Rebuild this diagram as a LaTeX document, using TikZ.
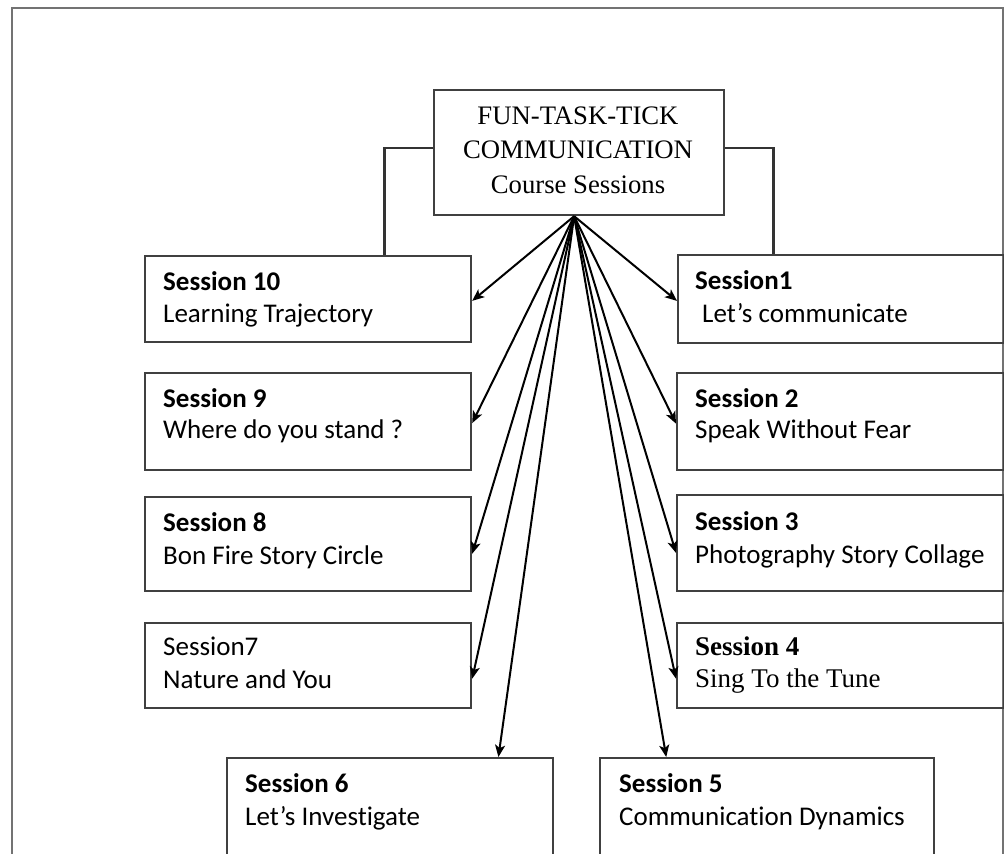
\documentclass[tikz,border=0pt]{standalone}
\usepackage{fontspec}
\setmainfont{Liberation Serif}
\newfontfamily\calibri[Ligatures=NoCommon]{Carlito}
\usetikzlibrary{arrows.meta,calc}

\begin{document}
\begin{tikzpicture}[x=1pt,y=-1pt,
  frame/.style={draw=black!55,line width=2.2pt},
  sbox/.style={draw=black!75,line width=2.2pt,rectangle,inner sep=0pt,anchor=north west},
  ttl/.style={anchor=base west,inner sep=0pt,font=\calibri\fontsize{27}{33}\selectfont\bfseries},
  sub/.style={anchor=base west,inner sep=0pt,font=\calibri\fontsize{27}{33}\selectfont},
  sttl/.style={anchor=base west,inner sep=0pt,font=\fontsize{27}{33}\selectfont\bfseries},
  ssub/.style={anchor=base west,inner sep=0pt,font=\fontsize{27}{33}\selectfont},
  head/.style={anchor=base,inner sep=0pt,font=\fontsize{26.7}{33}\selectfont},
  link/.style={draw=black,line width=2pt,-{Stealth[length=12pt,width=10pt,inset=3pt]}},
  elbow/.style={draw=black!80,line width=2.2pt}]

\path[use as bounding box] (0,0) rectangle (1004,854);
\clip (0,0) rectangle (1004,854);

% outer frame
\draw[frame] (12,880) -- (12,8) -- (1003,8) -- (1003,880);

% title box
\node[sbox,minimum width=290pt,minimum height=125pt] (top) at (433,89) {};
\node[head] (t0a) at (578,124) {FUN-TASK-TICK};
\node[head] (t0b) at (578,158) {COMMUNICATION};
\node[head] (t0c) at (578,193) {Course Sessions};
\coordinate (hub) at ($(top.south west)!0.483!(top.south east)$);

% left column
\node[sbox,minimum width=326pt,minimum height=86pt] (b10) at (144,255) {};
\node[ttl] (t10a) at (163,290) {Session 10};
\node[sub] (t10b) at (163,322) {Learning Trajectory};

\node[sbox,minimum width=326pt,minimum height=97pt] (b9) at (144,372) {};
\node[ttl] (t9a) at (163,407) {Session 9};
\node[sub] (t9b) at (163,438) {Where do you stand ?};

\node[sbox,minimum width=326pt,minimum height=94pt] (b8) at (144,496) {};
\node[ttl] (t8a) at (163,531) {Session 8};
\node[sub] (t8b) at (163,564) {Bon Fire Story Circle};

\node[sbox,minimum width=326pt,minimum height=85pt] (b7) at (144,622) {};
\node[sub] (t7a) at (163,655) {Session7};
\node[sub] (t7b) at (163,688) {Nature and You};

% right column
\node[sbox,minimum width=326pt,minimum height=88pt] (b1) at (677,254) {};
\node[ttl] (t1a) at (695,289) {Session1};
\node[sub] (t1b) at (702,322) {Let’s communicate};

\node[sbox,minimum width=327pt,minimum height=97pt] (b2) at (676,372) {};
\node[ttl] (t2a) at (695,407) {Session 2};
\node[sub] (t2b) at (695,438) {Speak Without Fear};

\node[sbox,minimum width=327pt,minimum height=96pt] (b3) at (676,494) {};
\node[ttl] (t3a) at (695,530) {Session 3};
\node[sub] (t3b) at (695,563) {Photography Story Collage};

\node[sbox,minimum width=327pt,minimum height=85pt] (b4) at (676,622) {};
\node[sttl] (t4a) at (695,655) {Session 4};
\node[ssub] (t4b) at (695,687) {Sing To the Tune};

% bottom row
\node[sbox,minimum width=326pt,minimum height=150pt] (b6) at (226,757) {};
\node[ttl] (t6a) at (245,792) {Session 6};
\node[sub] (t6b) at (245,825) {Let’s Investigate};

\node[sbox,minimum width=334pt,minimum height=150pt] (b5) at (599,757) {};
\node[ttl] (t5a) at (619,792) {Session 5};
\node[sub] (t5b) at (619,825) {Communication Dynamics};

% elbow connectors from the title box sides
\draw[elbow] ($(top.north west)!0.464!(top.south west)$) -| ($(b10.north west)!0.733!(b10.north east)$);
\draw[elbow] ($(top.north east)!0.464!(top.south east)$) -| ($(b1.north west)!0.294!(b1.north east)$);

% fan of arrows to every session
\draw[link] (hub) -- ($(b10.north east)!0.52!(b10.south east)$);
\draw[link] (hub) -- ($(b9.north east)!0.515!(b9.south east)$);
\draw[link] (hub) -- ($(b8.north east)!0.6!(b8.south east)$);
\draw[link] (hub) -- ($(b7.north east)!0.65!(b7.south east)$);
\draw[link] (hub) -- ($(b1.north west)!0.52!(b1.south west)$);
\draw[link] (hub) -- ($(b2.north west)!0.52!(b2.south west)$);
\draw[link] (hub) -- ($(b3.north west)!0.6!(b3.south west)$);
\draw[link] (hub) -- ($(b4.north west)!0.65!(b4.south west)$);
\draw[link] (hub) -- ($(b6.north west)!0.83!(b6.north east)$);
\draw[link] (hub) -- ($(b5.north west)!0.2!(b5.north east)$);
\end{tikzpicture}
\end{document}
